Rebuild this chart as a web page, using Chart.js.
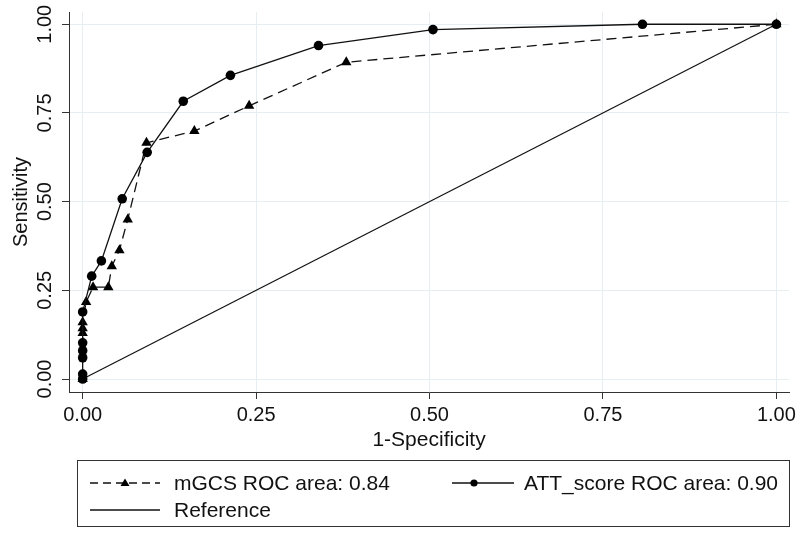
<!DOCTYPE html>
<html>
<head>
<meta charset="utf-8">
<script src="https://cdn.jsdelivr.net/npm/chart.js@4.4.1/dist/chart.umd.min.js"></script>
<style>
html,body{margin:0;padding:0;background:#fff;}
#wrap{position:relative;width:800px;height:533px;}
#legend{position:absolute;left:77px;top:460px;width:713px;height:67px;border:1px solid #333;box-sizing:border-box;font-family:"Liberation Sans",Arial,sans-serif;font-size:21px;color:#111;}
.sym{position:absolute;}
.txt{position:absolute;line-height:26px;white-space:nowrap;}
</style>
</head>
<body>
<div id="wrap">
<canvas id="c" width="800" height="533"></canvas>
<div id="legend"></div>
</div>
<script>
// ---- data ----
const xTicks = [0, 0.25, 0.5, 0.75, 1];
const yTicks = [0, 0.25, 0.5, 0.75, 1];
const xTitle = '1-Specificity';
const yTitle = 'Sensitivity';
const seriesLabels = ['mGCS ROC area: 0.84', 'ATT_score ROC area: 0.90', 'Reference'];

const mgcsFpr = [0, 0, 0, 0, 0.005, 0.015, 0.037, 0.042, 0.053, 0.065, 0.092, 0.161, 0.240, 0.380, 1];
const mgcsTpr = [0, 0.130, 0.143, 0.160, 0.217, 0.259, 0.259, 0.318, 0.363, 0.450, 0.666, 0.699, 0.770, 0.893, 1];

const attFpr = [0, 0, 0, 0, 0, 0, 0.013, 0.027, 0.057, 0.093, 0.145, 0.213, 0.340, 0.505, 0.807, 1];
const attTpr = [0, 0.014, 0.060, 0.080, 0.102, 0.189, 0.290, 0.333, 0.508, 0.639, 0.783, 0.856, 0.940, 0.985, 1.000, 1];

const refFpr = [0, 1];
const refTpr = [0, 1];

// ---- build chart ----
const FONT = '"Liberation Sans", Arial, sans-serif';
const INK = '#111';
const AXIS = '#333';
const GRID = '#e6eef1';

function pts(xs, ys){ return xs.map((x,i)=>({x:x, y:ys[i]})); }

const chart = new Chart(document.getElementById('c'), {
  type: 'scatter',
  data: {
    datasets: [
      { label: seriesLabels[2], data: pts(refFpr, refTpr), showLine: true,
        borderColor: '#111', borderWidth: 1.2, pointRadius: 0, order: 3 },
      { label: seriesLabels[0], data: pts(mgcsFpr, mgcsTpr), showLine: true,
        borderColor: '#111', borderWidth: 1.3, borderDash: [10, 6],
        pointStyle: 'triangle', pointRadius: 6, pointBackgroundColor: '#000', pointBorderColor: '#000', pointBorderWidth: 0, order: 2 },
      { label: seriesLabels[1], data: pts(attFpr, attTpr), showLine: true,
        borderColor: '#111', borderWidth: 1.3,
        pointStyle: 'circle', pointRadius: 4.8, pointBackgroundColor: '#000', pointBorderColor: '#000', pointBorderWidth: 0, order: 1 }
    ]
  },
  options: {
    responsive: false,
    animation: false,
    layout: { padding: { top: 12, right: 10, bottom: 80, left: 0 } },
    plugins: { legend: { display: false }, tooltip: { enabled: false } },
    scales: {
      x: {
        type: 'linear', min: -0.0197, max: 1.0183,
        afterBuildTicks: s => { s.ticks = xTicks.map(v => ({ value: v })); },
        afterFit: s => { s.height = 61; },
        ticks: { font: { family: FONT, size: 20 }, color: INK, padding: 4, autoSkip: false, maxRotation: 0,
                 callback: v => Number(v).toFixed(2) },
        grid: { color: GRID, lineWidth: 1, tickColor: AXIS, tickLength: 7 },
        border: { color: AXIS, width: 1 },
        title: { display: true, text: xTitle, font: { family: FONT, size: 21 }, color: INK, padding: 0 }
      },
      y: {
        type: 'linear', min: -0.0366, max: 1.0346,
        afterBuildTicks: s => { s.ticks = yTicks.map(v => ({ value: v })); },
        afterFit: s => { s.width = 69; s.paddingTop = 0; s.paddingBottom = 0; },
        ticks: { font: { family: FONT, size: 20 }, color: INK, padding: 17, minRotation: 90, maxRotation: 90,
                 labelOffset: -19.5, crossAlign: 'near',
                 callback: v => Number(v).toFixed(2) },
        grid: { color: GRID, lineWidth: 1, tickColor: AXIS, tickLength: 7 },
        border: { color: AXIS, width: 1 },
        title: { display: true, text: yTitle, font: { family: FONT, size: 20 }, color: INK, padding: { top: 9, bottom: 0 } }
      }
    }
  }
});

// ---- legend (HTML, built from the series labels) ----
const legend = document.getElementById('legend');
function addItem(row, symLeft, symW, markX, textLeft, kind, label){
  const cy = row === 0 ? 22 : 49;
  const svgNS = 'http://www.w3.org/2000/svg';
  const svg = document.createElementNS(svgNS, 'svg');
  svg.setAttribute('width', String(symW)); svg.setAttribute('height', '14');
  svg.setAttribute('class', 'sym');
  svg.style.left = symLeft + 'px'; svg.style.top = (cy - 7) + 'px';
  const line = document.createElementNS(svgNS, 'line');
  line.setAttribute('x1', '0'); line.setAttribute('x2', String(symW));
  line.setAttribute('y1', '7'); line.setAttribute('y2', '7');
  line.setAttribute('stroke', '#111'); line.setAttribute('stroke-width', '1.3');
  if (kind === 'tri') line.setAttribute('stroke-dasharray', '8 5');
  svg.appendChild(line);
  if (kind === 'tri') {
    const p = document.createElementNS(svgNS, 'polygon');
    p.setAttribute('points', `${markX},2.5 ${markX+4.5},10 ${markX-4.5},10`);
    p.setAttribute('fill', '#000'); svg.appendChild(p);
  } else if (kind === 'dot') {
    const c = document.createElementNS(svgNS, 'circle');
    c.setAttribute('cx', String(markX)); c.setAttribute('cy', '7'); c.setAttribute('r', '3.6');
    c.setAttribute('fill', '#000'); svg.appendChild(c);
  }
  legend.appendChild(svg);
  const t = document.createElement('div');
  t.className = 'txt'; t.textContent = label;
  t.style.left = textLeft + 'px'; t.style.top = (cy - 13) + 'px';
  legend.appendChild(t);
}
addItem(0, 12, 70, 35, 96, 'tri', seriesLabels[0]);
addItem(0, 374, 62, 22, 446, 'dot', seriesLabels[1]);
addItem(1, 12, 70, 0, 96, 'line', seriesLabels[2]);
</script>
</body>
</html>
